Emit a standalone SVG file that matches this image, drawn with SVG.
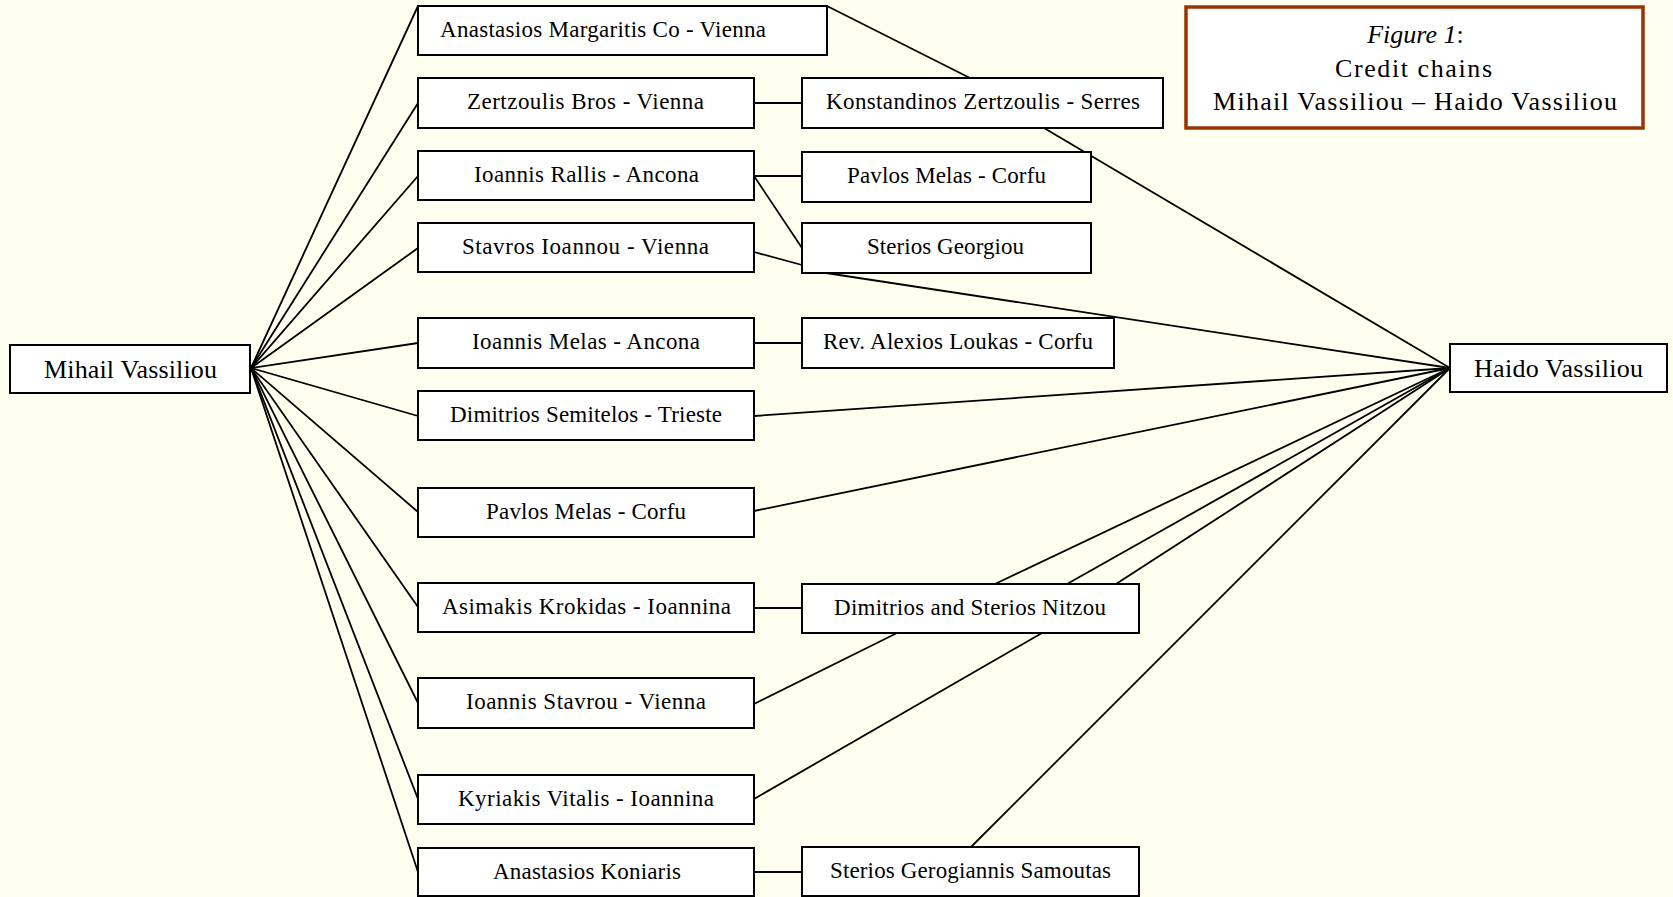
<svg xmlns="http://www.w3.org/2000/svg" width="1673" height="897" viewBox="0 0 1673 897">
<style>
.bg{fill:#FFFFF0}
.box{fill:#FFFFFF;stroke:#000;stroke-width:2}
.t{font-family:"Liberation Serif","Times New Roman",serif;font-size:23px;fill:#000;text-anchor:middle}
.tb{font-family:"Liberation Serif","Times New Roman",serif;font-size:26px;fill:#000;text-anchor:middle}
.ln{stroke:#000;stroke-width:1.8;fill:none}
.title{fill:#FFFFFF;stroke:#993300;stroke-width:3.5}
</style>
<rect class="bg" x="0" y="0" width="1673" height="897"/>
<g id="connectors">
<line class="ln" x1="251" y1="368" x2="418" y2="6"/>
<line class="ln" x1="251" y1="368" x2="418" y2="103"/>
<line class="ln" x1="251" y1="368" x2="418" y2="176"/>
<line class="ln" x1="251" y1="368" x2="418" y2="248"/>
<line class="ln" x1="251" y1="368" x2="418" y2="343"/>
<line class="ln" x1="251" y1="368" x2="418" y2="416"/>
<line class="ln" x1="251" y1="368" x2="418" y2="512"/>
<line class="ln" x1="251" y1="368" x2="418" y2="607"/>
<line class="ln" x1="251" y1="368" x2="418" y2="703"/>
<line class="ln" x1="251" y1="368" x2="418" y2="799"/>
<line class="ln" x1="251" y1="368" x2="418" y2="872"/>
<line class="ln" x1="827" y1="6" x2="970" y2="78"/>
<line class="ln" x1="754" y1="103" x2="802" y2="103"/>
<line class="ln" x1="754" y1="176" x2="802" y2="176"/>
<line class="ln" x1="754" y1="176" x2="802" y2="248"/>
<line class="ln" x1="754" y1="252" x2="802" y2="265"/>
<line class="ln" x1="754" y1="343" x2="802" y2="343"/>
<line class="ln" x1="754" y1="608" x2="802" y2="608"/>
<line class="ln" x1="754" y1="704" x2="897" y2="633"/>
<line class="ln" x1="754" y1="799" x2="1042" y2="633"/>
<line class="ln" x1="754" y1="872" x2="802" y2="872"/>
<line class="ln" x1="1044" y1="128" x2="1450" y2="368"/>
<line class="ln" x1="826" y1="273" x2="1450" y2="368"/>
<line class="ln" x1="754" y1="416" x2="1450" y2="368"/>
<line class="ln" x1="754" y1="511" x2="1450" y2="368"/>
<line class="ln" x1="995" y1="584" x2="1450" y2="368"/>
<line class="ln" x1="1067" y1="584" x2="1450" y2="368"/>
<line class="ln" x1="1116" y1="584" x2="1450" y2="368"/>
<line class="ln" x1="971" y1="847" x2="1450" y2="368"/>
</g>
<g id="n_mihail"><rect class="box" x="10" y="345" width="240" height="48"/><text class="tb" x="130.5" y="378" textLength="173">Mihail Vassiliou</text></g>
<g id="n_margaritis"><rect class="box" x="418" y="6" width="409" height="49"/><text class="t" x="603" y="37" textLength="326">Anastasios Margaritis Co - Vienna</text></g>
<g id="n_zertzoulis_bros"><rect class="box" x="418" y="78" width="336" height="50"/><text class="t" x="585.5" y="109" textLength="237">Zertzoulis Bros - Vienna</text></g>
<g id="n_rallis"><rect class="box" x="418" y="151" width="336" height="49"/><text class="t" x="586.5" y="182" textLength="225">Ioannis Rallis - Ancona</text></g>
<g id="n_stavros_ioannou"><rect class="box" x="418" y="223" width="336" height="49"/><text class="t" x="585.5" y="254" textLength="247">Stavros Ioannou - Vienna</text></g>
<g id="n_ioannis_melas"><rect class="box" x="418" y="318" width="336" height="50"/><text class="t" x="586" y="349" textLength="228">Ioannis Melas - Ancona</text></g>
<g id="n_semitelos"><rect class="box" x="418" y="391" width="336" height="49"/><text class="t" x="586" y="422" textLength="272">Dimitrios Semitelos - Trieste</text></g>
<g id="n_pavlos_left"><rect class="box" x="418" y="488" width="336" height="49"/><text class="t" x="586" y="519" textLength="200">Pavlos Melas - Corfu</text></g>
<g id="n_krokidas"><rect class="box" x="418" y="583" width="336" height="49"/><text class="t" x="586.5" y="614" textLength="289">Asimakis Krokidas - Ioannina</text></g>
<g id="n_stavrou"><rect class="box" x="418" y="678" width="336" height="50"/><text class="t" x="586" y="709" textLength="240">Ioannis Stavrou - Vienna</text></g>
<g id="n_vitalis"><rect class="box" x="418" y="775" width="336" height="49"/><text class="t" x="586" y="806" textLength="256">Kyriakis Vitalis - Ioannina</text></g>
<g id="n_koniaris"><rect class="box" x="418" y="848" width="336" height="48"/><text class="t" x="587" y="879" textLength="188">Anastasios Koniaris</text></g>
<g id="n_konstandinos"><rect class="box" x="802" y="78" width="361" height="50"/><text class="t" x="983" y="109" textLength="314">Konstandinos Zertzoulis - Serres</text></g>
<g id="n_pavlos_right"><rect class="box" x="802" y="152" width="289" height="50"/><text class="t" x="946.5" y="183" textLength="199">Pavlos Melas - Corfu</text></g>
<g id="n_georgiou"><rect class="box" x="802" y="223" width="289" height="50"/><text class="t" x="945.5" y="254" textLength="157">Sterios Georgiou</text></g>
<g id="n_loukas"><rect class="box" x="802" y="318" width="312" height="50"/><text class="t" x="958" y="349" textLength="270">Rev. Alexios Loukas - Corfu</text></g>
<g id="n_nitzou"><rect class="box" x="802" y="584" width="337" height="49"/><text class="t" x="970" y="615" textLength="272">Dimitrios and Sterios Nitzou</text></g>
<g id="n_samoutas"><rect class="box" x="802" y="847" width="337" height="49"/><text class="t" x="970.5" y="878" textLength="281">Sterios Gerogiannis Samoutas</text></g>
<g id="n_haido"><rect class="box" x="1450" y="344" width="217" height="48"/><text class="tb" x="1558.5" y="377" textLength="169">Haido Vassiliou</text></g>
<g id="n_title"><rect class="title" x="1186" y="7" width="457" height="121"/>
<text class="tb" x="1415.5" y="43"><tspan font-style="italic">Figure 1</tspan>:</text>
<text class="tb" x="1413.5" y="77" textLength="157">Credit chains</text>
<text class="tb" x="1415" y="110" textLength="404">Mihail Vassiliou – Haido Vassiliou</text>
</g>
</svg>
